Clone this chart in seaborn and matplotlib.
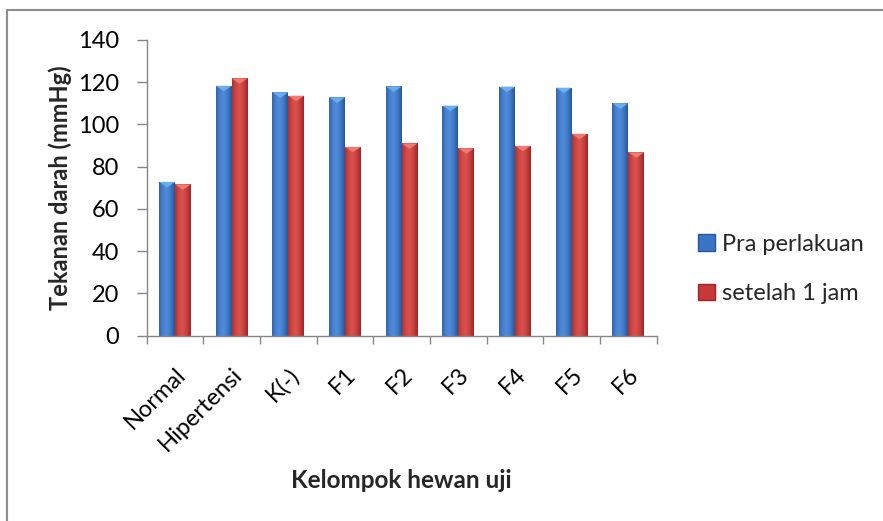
import numpy as np
import pandas as pd
import matplotlib
matplotlib.use("Agg")
import matplotlib.pyplot as plt
from matplotlib.colors import LinearSegmentedColormap
from matplotlib.patches import Polygon, Patch
from matplotlib.lines import Line2D
import seaborn as sns

# Blood pressure (mmHg) per test-animal group, before treatment and after 1 hour
kelompok = ["Normal", "Hipertensi", "K(-)", "F1", "F2", "F3", "F4", "F5", "F6"]
pra_perlakuan = [72.8, 118.3, 115.2, 112.8, 118.0, 108.9, 117.9, 117.4, 110.0]
setelah_1_jam = [71.6, 121.8, 113.6, 89.4, 91.0, 88.7, 89.9, 95.6, 86.8]
seri = ["Pra perlakuan", "setelah 1 jam"]
y_ticks = [0, 20, 40, 60, 80, 100, 120, 140]

df = pd.DataFrame({
    "kelompok": kelompok * 2,
    "tekanan": pra_perlakuan + setelah_1_jam,
    "waktu": [seri[0]] * len(kelompok) + [seri[1]] * len(kelompok),
})

sns.set_theme(style="white")
plt.rcParams["font.family"] = ["Lato", "DejaVu Sans"]

BLUE = "#3A74C4"
RED = "#C8373A"
shades = {
    BLUE: ("#25569A", "#4F8BDA", "#6AAEEE"),
    RED: ("#9E2426", "#D9504C", "#EE7A72"),
}
GREY = "#868686"
FS = 17

fig = plt.figure(figsize=(8.83, 5.21), dpi=100)
ax = fig.add_axes([0.1661, 0.3557, 0.5776, 0.5676])

sns.barplot(data=df, x="kelompok", y="tekanan", hue="waktu",
            palette=[BLUE, RED], width=0.56, gap=0, saturation=1,
            legend=False, ax=ax, linewidth=0)

# cylinder-like shading across each bar plus a bevelled top
t = np.linspace(0, 1, 64)
profile = np.clip(1 - (np.abs(t - 0.45) / 0.55) ** 1.6, 0, 1)
grad = profile[np.newaxis, :]
for patch in list(ax.patches):
    fc = matplotlib.colors.to_hex(patch.get_facecolor())
    key = BLUE if abs(int(fc[1:3], 16) - int(BLUE[1:3], 16)) < 40 else RED
    dark, light, cap = shades[key]
    cmap = LinearSegmentedColormap.from_list("shade", [dark, light])
    x0, y0 = patch.get_x(), patch.get_y()
    w, h = patch.get_width(), patch.get_height()
    im = ax.imshow(grad, extent=[x0, x0 + w, y0, y0 + h], aspect="auto",
                   cmap=cmap, vmin=0, vmax=1, zorder=patch.get_zorder() + 0.1,
                   interpolation="bicubic")
    im.set_clip_path(patch)
    tri = Polygon([(x0, y0 + h), (x0 + w, y0 + h), (x0 + w / 2, y0 + h - 2.6)],
                  closed=True, facecolor=cap, edgecolor="none",
                  zorder=patch.get_zorder() + 0.2)
    ax.add_patch(tri)

n = len(kelompok)
ax.set_xlim(-0.5, n - 0.5)
ax.set_ylim(0, 140)
ax.set_yticks(y_ticks)
ax.set_yticklabels([str(v) for v in y_ticks])

ax.set_xticks(range(n))
ax.set_xticklabels(kelompok, rotation=45, ha="right", rotation_mode="anchor")
ax.set_xticks(np.arange(-0.5, n, 1.0), minor=True)
ax.tick_params(axis="x", which="major", length=0, pad=20, labelsize=FS,
               labelcolor="black")
ax.tick_params(axis="x", which="minor", length=6, width=1, color=GREY,
               direction="out", bottom=True)
ax.tick_params(axis="y", length=7, width=1, color=GREY, direction="out",
               left=True, pad=13, labelsize=FS, labelcolor="black")

for side in ["top", "right"]:
    ax.spines[side].set_visible(False)
for side in ["left", "bottom"]:
    ax.spines[side].set_color(GREY)
    ax.spines[side].set_linewidth(1)
ax.set_xlabel("")
ax.set_ylabel("")

fig.text(60 / 883, 1 - 188 / 521, "Tekanan darah (mmHg)", rotation=90,
         ha="center", va="center", fontsize=FS, fontweight="bold")
fig.text(401.7 / 883, 1 - 481 / 521, "Kelompok hewan uji",
         ha="center", va="center", fontsize=FS + 0.5, fontweight="bold")

handles = [Patch(facecolor=BLUE, edgecolor="#25569A"),
           Patch(facecolor=RED, edgecolor="#9E2426")]
fig.legend(handles, seri, loc="center left",
           bbox_to_anchor=(698 / 883, 1 - 269 / 521), frameon=False,
           fontsize=FS, handlelength=0.7, handleheight=0.7,
           handletextpad=0.3, labelspacing=1.2, borderpad=0,
           borderaxespad=0)

# chart frame (open on the right and bottom)
yt = 1 - 10 / 521
xl = 7 / 883
fig.add_artist(Line2D([xl, 1], [yt, yt], transform=fig.transFigure,
                      color="#8C8C8C", linewidth=1.5))
fig.add_artist(Line2D([xl, xl], [0, yt], transform=fig.transFigure,
                      color="#8C8C8C", linewidth=1.5))

fig.savefig("out.png", dpi=100, facecolor="white")
